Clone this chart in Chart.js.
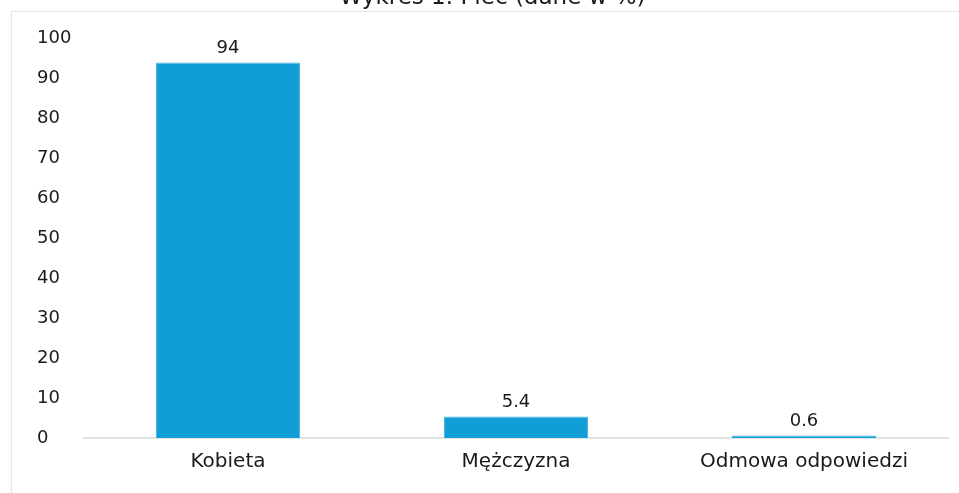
<!DOCTYPE html>
<html>
<head>
<meta charset="utf-8">
<script src="https://cdn.jsdelivr.net/npm/chart.js@4/dist/chart.umd.min.js"></script>
<style>
  html, body { margin: 0; padding: 0; background: #fff; overflow: hidden; }
  #frame {
    position: absolute; left: 11px; top: 11px; width: 960px; height: 500px;
    border-left: 1px solid #e4e4e4; border-top: 1px solid #e4e4e4;
    box-shadow: 0 1px 2px rgba(0,0,0,0.05);
  }
  #wrap { position: absolute; left: 0; top: -16px; width: 959px; height: 509px; }
</style>
</head>
<body>
<div id="frame"></div>
<div id="wrap"><canvas id="chart"></canvas></div>
<script>
const categories = ["Kobieta", "Mężczyzna", "Odmowa odpowiedzi"]
const values = [94, 5.4, 0.6]
const valueLabels = ["94", "5.4", "0.6"]
const titleText = "Wykres 1. Płeć (dane w %)"

const fontFamily = "'DejaVu Sans', Verdana, sans-serif"

const barLabels = {
    id: "barLabels",
    afterDatasetsDraw(chart) {
        const ctx = chart.ctx
        ctx.save()
        ctx.font = "18px " + fontFamily
        ctx.fillStyle = "#1a1a1a"
        ctx.textAlign = "center"
        ctx.textBaseline = "bottom"
        chart.getDatasetMeta(0).data.forEach((bar, i) => {
            ctx.fillText(valueLabels[i], bar.x, bar.y - 5)
        })
        ctx.restore()
    }
}

new Chart(
    document.getElementById("chart").getContext("2d"),
    {
        type: "bar",
        data: {
            labels: categories,
            datasets: [{
                label: "Płeć",
                data: values,
                backgroundColor: "#119dd6",
                borderColor: "#4cb8e4",
                borderWidth: 1,
                barPercentage: 0.5,
                categoryPercentage: 1.0,
                minBarLength: 2
            }]
        },
        options: {
            responsive: true,
            maintainAspectRatio: false,
            animation: false,
            layout: { padding: { left: 37, right: 11, top: 0, bottom: 15 } },
            plugins: {
                legend: { display: false },
                tooltip: { enabled: false },
                title: {
                    display: true,
                    text: titleText,
                    color: "#1a1a1a",
                    font: { family: fontFamily, size: 23, weight: "normal" },
                    padding: { top: 0, bottom: 27 }
                }
            },
            scales: {
                x: {
                    grid: { display: false },
                    border: { color: "#e2e2e2", width: 2 },
                    ticks: {
                        color: "#1a1a1a",
                        padding: 4,
                        font: { family: fontFamily, size: 20 }
                    }
                },
                y: {
                    min: 0,
                    max: 100,
                    grid: { display: false },
                    border: { display: false },
                    afterFit: axis => { axis.width = 47 },
                    ticks: {
                        stepSize: 10,
                        crossAlign: "far",
                        color: "#1a1a1a",
                        font: { family: fontFamily, size: 18 }
                    }
                }
            }
        },
        plugins: [barLabels]
    }
)
</script>
</body>
</html>
